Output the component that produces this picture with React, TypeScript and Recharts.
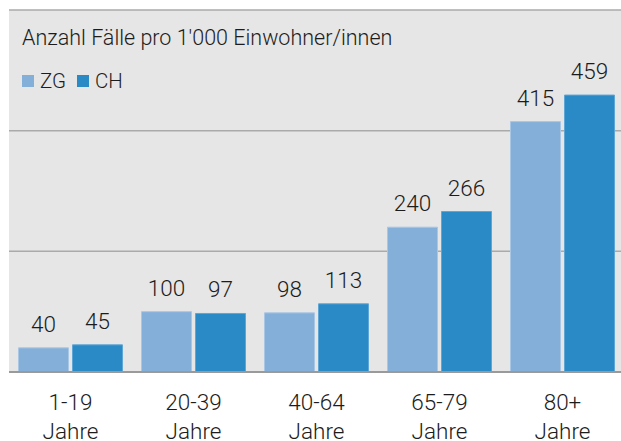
import { BarChart, Bar, XAxis, YAxis, CartesianGrid, LabelList } from 'recharts';

const categories = ['1-19 Jahre', '20-39 Jahre', '40-64 Jahre', '65-79 Jahre', '80+ Jahre'];
const zgValues = [40, 100, 98, 240, 415];
const chValues = [45, 97, 113, 266, 459];
const yTicks = [0, 200, 400, 600];

const COLORS = { ZG: '#84afd9', CH: '#2a8ac6' };
const FONT = 'Roboto, "Noto Sans", sans-serif';
const TEXT = '#1c1c1c';

const data = categories.map((name, i) => ({ name, ZG: zgValues[i], CH: chValues[i] }));

const renderTick = ({ x, y, payload }: any) => {
  const [range, unit] = String(payload.value).split(' ');
  return (
    <text x={x} y={y} textAnchor="middle" fill={TEXT} fontSize={22.5} fontFamily={FONT} fontWeight={300}>
      <tspan x={x} dy={30}>{range}</tspan>
      <tspan x={x} dy={29}>{unit}</tspan>
    </text>
  );
};

export default function App() {
  return (
    <div style={{ position: 'absolute', left: 0, top: 0, width: 621, height: 441, overflow: 'hidden', background: '#fff' }}>
      <BarChart
        width={640}
        height={441}
        data={data}
        margin={{ top: 10, right: 16, bottom: 0, left: 9 }}
        barCategoryGap={9.5}
        barGap={4}
      >
        <CartesianGrid vertical={false} fill="#e6e6e6" stroke="#aaaaaa" strokeWidth={1.5} />
        <YAxis
          width={0}
          domain={[0, 600]}
          ticks={yTicks}
          tick={() => <g />}
          tickLine={false}
          axisLine={{ stroke: '#aaaaaa', strokeWidth: 2 }}
        />
        <XAxis
          dataKey="name"
          height={69}
          tickLine={false}
          axisLine={{ stroke: '#9a9a9a', strokeWidth: 2 }}
          tick={renderTick}
          interval={0}
        />
        <Bar dataKey="ZG" fill={COLORS.ZG} stroke="#a9c6e4" strokeWidth={1} isAnimationActive={false}>
          <LabelList dataKey="ZG" position="top" offset={16} fill={TEXT} fontSize={22.5} fontFamily={FONT} fontWeight={300} />
        </Bar>
        <Bar dataKey="CH" fill={COLORS.CH} stroke="#5ea6d6" strokeWidth={1} isAnimationActive={false}>
          <LabelList dataKey="CH" position="top" offset={16} fill={TEXT} fontSize={22.5} fontFamily={FONT} fontWeight={300} />
        </Bar>
      </BarChart>
      <div
        style={{
          position: 'absolute',
          left: 22,
          top: 25,
          fontFamily: FONT,
          fontWeight: 300,
          fontSize: 21.5,
          color: TEXT,
          whiteSpace: 'nowrap',
        }}
      >
        Anzahl Fälle pro 1'000 Einwohner/innen
      </div>
      <div
        style={{
          position: 'absolute',
          left: 22,
          top: 69,
          display: 'flex',
          alignItems: 'center',
          fontFamily: FONT,
          fontWeight: 300,
          fontSize: 20.5,
          color: TEXT,
        }}
      >
        {(['ZG', 'CH'] as const).map((k) => (
          <span key={k} style={{ display: 'flex', alignItems: 'center', marginRight: 11 }}>
            <span style={{ width: 12, height: 12, background: COLORS[k], display: 'inline-block', marginRight: 6 }} />
            {k}
          </span>
        ))}
      </div>
    </div>
  );
}
